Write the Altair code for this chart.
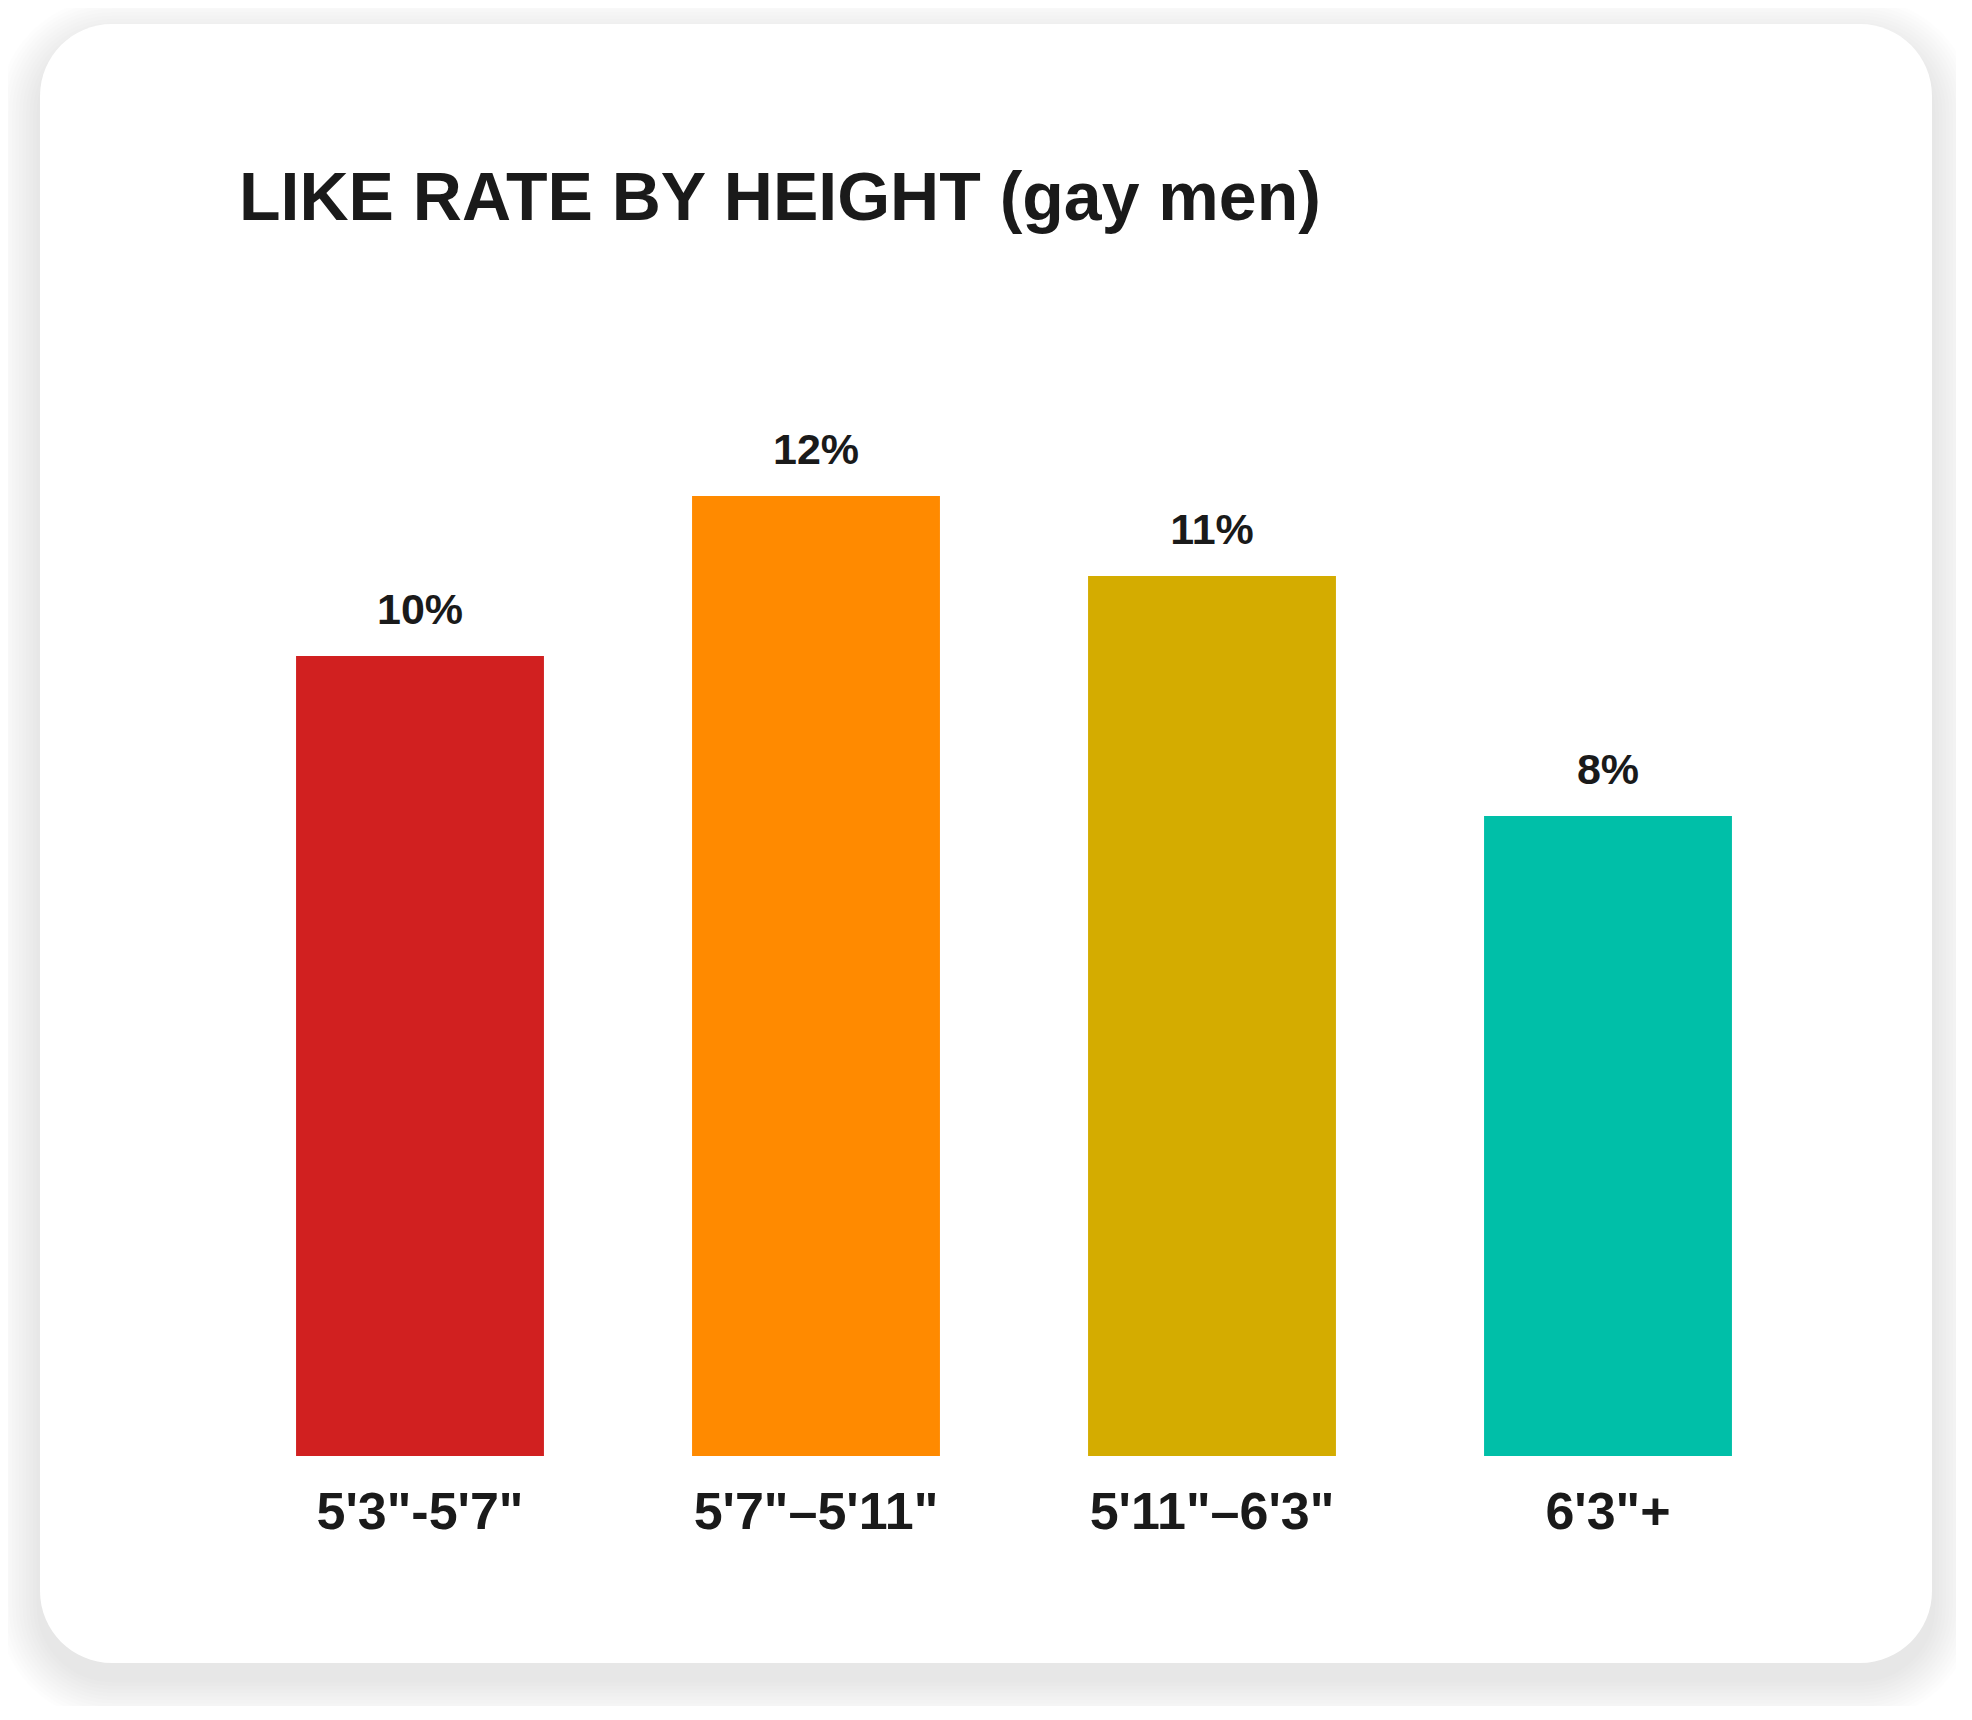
import altair as alt
import pandas as pd

# ---- data ----
categories = ["5'3\"-5'7\"", "5'7\"\u20135'11\"", "5'11\"\u20136'3\"", "6'3\"+"]
rates = [10, 12, 11, 8]
rate_labels = ["10%", "12%", "11%", "8%"]
bar_colors = ["#D12020", "#FF8A00", "#D4AC00", "#00BFA8"]
title_text = "LIKE RATE BY HEIGHT (gay men)"

FONT = "Liberation Sans"
INK = "#1a1a1a"

df = pd.DataFrame({"height": categories, "rate": rates, "label": rate_labels})
one = pd.DataFrame({"title": [title_text]})

# card (decoration) in pixels relative to plot origin
CL, CR, CT, CB, RAD = -182, 1710, -232, 1407, 72
PLOT_H = 1200

layers = []
n_sh = 12
for i in range(n_sh, 0, -1):
    e = i * 3.5
    layers.append(
        alt.Chart(one).mark_rect(color="#000000", opacity=0.0065, cornerRadius=RAD + e).encode(
            x=alt.value(CL - e), x2=alt.value(CR + e),
            y=alt.value(CT - e + 16), y2=alt.value(CB + e + 16),
        )
    )
layers.append(
    alt.Chart(one).mark_rect(color="#ffffff", cornerRadius=RAD).encode(
        x=alt.value(CL), x2=alt.value(CR), y=alt.value(CT), y2=alt.value(CB)
    )
)

xscale = alt.Scale(domain=categories, paddingInner=0.374, paddingOuter=0.187)
xenc = alt.X("height:N", sort=categories, title=None, scale=xscale, axis=None)
yenc = alt.Y("rate:Q", scale=alt.Scale(domain=[0, 15], nice=False, zero=True), axis=None)

bars = alt.Chart(df).mark_bar().encode(
    x=xenc, y=yenc,
    color=alt.Color("height:N", scale=alt.Scale(domain=categories, range=bar_colors), legend=None),
)
values = alt.Chart(df).mark_text(
    baseline="alphabetic", dy=-32, font=FONT, fontSize=43, fontWeight="bold", color=INK
).encode(x=xenc, y=yenc, text="label:N")

xlabels = alt.Chart(df).mark_text(
    baseline="alphabetic", font=FONT, fontSize=52, fontWeight="bold", color=INK
).encode(x=xenc, y=alt.value(PLOT_H + 73), text="height:N")

title = alt.Chart(one).mark_text(
    align="left", baseline="alphabetic", font=FONT, fontSize=68, fontWeight="bold", color=INK
).encode(x=alt.value(17), y=alt.value(-36), text="title:N")

layers += [bars, values, xlabels, title]

chart = alt.layer(*layers).properties(
    width=1584, height=PLOT_H,
    padding={"left": 214, "top": 248, "right": 150, "bottom": 250},
    autosize=alt.AutoSizeParams(type="none"),
    background="#ffffff",
).configure_view(stroke=None)

chart.save("out.html", embed_options={"renderer": "svg", "actions": False})
